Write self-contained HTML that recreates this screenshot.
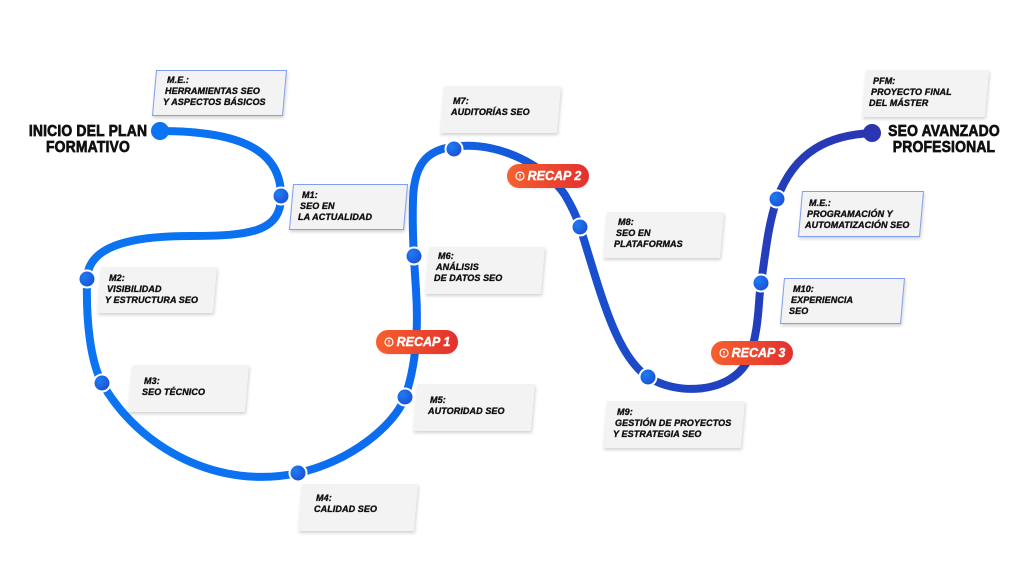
<!DOCTYPE html>
<html><head><meta charset="utf-8">
<style>
html,body{margin:0;padding:0;background:#fff;}
#wrap{position:relative;width:1024px;height:576px;overflow:hidden;background:#fff;font-family:"Liberation Sans",Arial,sans-serif;}
svg.main{position:absolute;left:0;top:0;}
.bx{position:absolute;background:#f3f3f3;transform:skewX(-5deg);box-shadow:1px 2px 3px rgba(0,0,0,0.18);}
.bx.bl{border:1px solid #7f9ff0;box-sizing:border-box;}
.tx{position:absolute;font-size:9px;line-height:10.8px;font-weight:bold;font-style:italic;color:#111;white-space:nowrap;-webkit-text-stroke:0.35px #111;letter-spacing:0.1px;}
.tx div:nth-child(2){margin-left:-2px}
.tx div:nth-child(3){margin-left:-4px}
.hd{position:absolute;font-size:16px;line-height:16px;font-weight:bold;color:#111;text-align:center;white-space:nowrap;transform:scaleX(0.87);transform-origin:center;-webkit-text-stroke:0.7px #111;letter-spacing:0.2px;}
.rc{position:absolute;width:82px;height:24px;border-radius:12px;background:linear-gradient(90deg,#f6602e,#e2312e);color:#fff;font-weight:bold;font-style:italic;font-size:12.5px;line-height:24px;text-align:center;white-space:nowrap;box-shadow:0 1px 2px rgba(0,0,0,0.1);-webkit-text-stroke:0.4px #fff;}
.rc svg{vertical-align:-1px;margin-right:3px;}
</style></head>
<body><div id="wrap">
<svg class="main" width="1024" height="576" viewBox="0 0 1024 576">
<defs>
<linearGradient id="pg" gradientUnits="userSpaceOnUse" x1="150" y1="0" x2="880" y2="0">
<stop offset="0" stop-color="#0a74f2"/>
<stop offset="0.35" stop-color="#0c6cee"/>
<stop offset="0.5" stop-color="#1558d8"/>
<stop offset="0.72" stop-color="#1e45c4"/>
<stop offset="1" stop-color="#2b35b0"/>
</linearGradient>
<radialGradient id="dg" cx="0.35" cy="0.35" r="0.7">
<stop offset="0" stop-color="#1f7cf5"/>
<stop offset="1" stop-color="#1a4fd0"/>
</radialGradient>
</defs>
<path d="M160,131 C240,131 281,150 281,196 C281,232 250,236 190,236 C125,236 88,248 87,279 C86,320 90,360 102,383 C140,450 220,490 298,473 C350,462 395,425 405,397 C418,360 418,320 416,290 C414,260 412,230 413,200 C414,160 430,148 460,146 C500,143 545,165 565,195 C572,207 576,215 580,227 C600,290 615,355 648,377 C675,395 730,395 748,360 C760,330 758,300 761,283 C766,250 768,225 777,199 C795,150 830,135 872,133" fill="none" stroke="url(#pg)" stroke-width="8" stroke-linecap="round"/>
<circle cx="160" cy="131" r="9" fill="#0a74f2"/>
<circle cx="872" cy="133" r="9" fill="#2b35b0"/>
<g stroke="#fff" stroke-width="2" fill="url(#dg)">
<circle cx="281" cy="196" r="8.5"/>
<circle cx="87" cy="279" r="8.5"/>
<circle cx="102" cy="383" r="8.5"/>
<circle cx="298" cy="473" r="8.5"/>
<circle cx="405" cy="397" r="8.5"/>
<circle cx="414" cy="256" r="8.5"/>
<circle cx="454" cy="149" r="8.5"/>
<circle cx="580" cy="227" r="8.5"/>
<circle cx="648" cy="377" r="8.5"/>
<circle cx="761" cy="283" r="8.5"/>
<circle cx="777" cy="199" r="8.5"/>
</g>
</svg>

<div class="hd" style="left:18px;top:124px;width:140px;">INICIO DEL PLAN<br>FORMATIVO</div>
<div class="hd" style="left:874px;top:124px;width:140px;">SEO AVANZADO<br>PROFESIONAL</div>

<div class="bx bl" style="left:154px;top:70px;width:131px;height:46px;"></div>
<div class="tx" style="left:167px;top:75px;"><div>M.E.:</div><div>HERRAMIENTAS SEO</div><div>Y ASPECTOS BÁSICOS</div></div>

<div class="bx bl" style="left:291px;top:184px;width:115px;height:46px;"></div>
<div class="tx" style="left:302px;top:190px;"><div>M1:</div><div>SEO EN</div><div>LA ACTUALIDAD</div></div>

<div class="bx" style="left:99px;top:267px;width:116px;height:46px;"></div>
<div class="tx" style="left:109px;top:273px;"><div>M2:</div><div>VISIBILIDAD</div><div>Y ESTRUCTURA SEO</div></div>

<div class="bx" style="left:130px;top:365px;width:117px;height:47px;"></div>
<div class="tx" style="left:144px;top:376px;"><div>M3:</div><div>SEO TÉCNICO</div></div>

<div class="bx" style="left:300px;top:484px;width:116px;height:47px;"></div>
<div class="tx" style="left:316px;top:493px;"><div>M4:</div><div>CALIDAD SEO</div></div>

<div class="bx" style="left:415px;top:384px;width:118px;height:47px;"></div>
<div class="tx" style="left:430px;top:395px;"><div>M5:</div><div>AUTORIDAD SEO</div></div>

<div class="bx" style="left:427px;top:247px;width:116px;height:47px;"></div>
<div class="tx" style="left:438px;top:251px;"><div>M6:</div><div>ANÁLISIS</div><div>DE DATOS SEO</div></div>

<div class="bx" style="left:442px;top:86px;width:117px;height:47px;"></div>
<div class="tx" style="left:453px;top:96px;"><div>M7:</div><div>AUDITORÍAS SEO</div></div>

<div class="bx" style="left:605px;top:212px;width:117px;height:46px;"></div>
<div class="tx" style="left:618px;top:217px;"><div>M8:</div><div>SEO EN</div><div>PLATAFORMAS</div></div>

<div class="bx" style="left:605px;top:401px;width:138px;height:47px;"></div>
<div class="tx" style="left:617px;top:407px;"><div>M9:</div><div>GESTIÓN DE PROYECTOS</div><div>Y ESTRATEGIA SEO</div></div>

<div class="bx bl" style="left:782px;top:278px;width:121px;height:46px;"></div>
<div class="tx" style="left:793px;top:284px;"><div>M10:</div><div>EXPERIENCIA</div><div>SEO</div></div>

<div class="bx" style="left:864px;top:70px;width:123px;height:47px;"></div>
<div class="tx" style="left:873px;top:76px;"><div>PFM:</div><div>PROYECTO FINAL</div><div>DEL MÁSTER</div></div>

<div class="bx bl" style="left:800px;top:191px;width:122px;height:46px;"></div>
<div class="tx" style="left:809px;top:198px;"><div>M.E.:</div><div>PROGRAMACIÓN Y</div><div>AUTOMATIZACIÓN SEO</div></div>

<div class="rc" style="left:376px;top:330px;"><svg width="10" height="10" viewBox="0 0 10 10"><circle cx="5" cy="5" r="4" fill="none" stroke="#fff" stroke-width="1.2"/><line x1="5" y1="3" x2="5" y2="5.5" stroke="#fff" stroke-width="1.2"/><circle cx="5" cy="7" r="0.6" fill="#fff"/></svg>RECAP 1</div>
<div class="rc" style="left:507px;top:164px;"><svg width="10" height="10" viewBox="0 0 10 10"><circle cx="5" cy="5" r="4" fill="none" stroke="#fff" stroke-width="1.2"/><line x1="5" y1="3" x2="5" y2="5.5" stroke="#fff" stroke-width="1.2"/><circle cx="5" cy="7" r="0.6" fill="#fff"/></svg>RECAP 2</div>
<div class="rc" style="left:711px;top:341px;"><svg width="10" height="10" viewBox="0 0 10 10"><circle cx="5" cy="5" r="4" fill="none" stroke="#fff" stroke-width="1.2"/><line x1="5" y1="3" x2="5" y2="5.5" stroke="#fff" stroke-width="1.2"/><circle cx="5" cy="7" r="0.6" fill="#fff"/></svg>RECAP 3</div>
</div></body></html>
